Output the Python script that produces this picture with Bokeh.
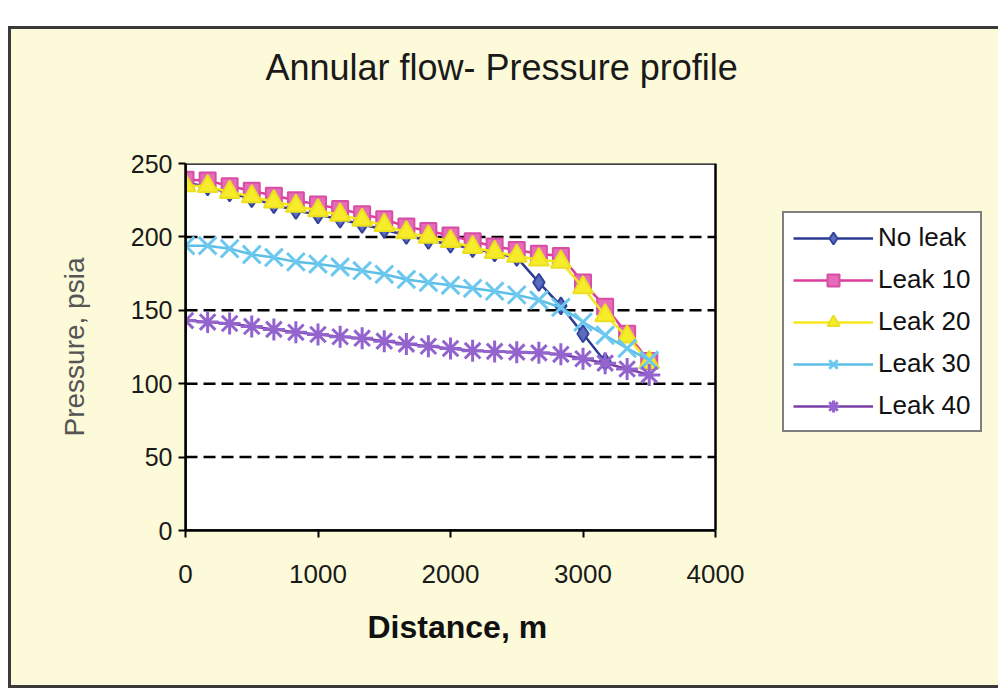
from bokeh.plotting import figure
from bokeh.models import Range1d, FixedTicker, Legend, LegendItem, ColumnDataSource, Title
from bokeh.embed import file_html
from bokeh.resources import INLINE

# ---------------- data ----------------
distance = [0, 167, 333, 500, 667, 833, 1000, 1167, 1333, 1500, 1667, 1833,
            2000, 2167, 2333, 2500, 2667, 2833, 3000, 3167, 3333, 3500]
no_leak = [237, 234, 230, 226, 222, 218, 215, 212, 208.5, 205, 201, 197.5,
           195, 192, 189, 186, 169, 153, 134, 115]
leak_10 = [239, 238.5, 234.5, 231.5, 228, 225, 222, 219, 215.5, 212, 207, 204,
           201, 197, 193.5, 191, 188.5, 187, 169, 152.5, 134, 115.5]
leak_20 = [235, 234.5, 230.5, 227.5, 224, 221, 218, 215, 211.5, 208, 203, 200,
           197, 193, 189.5, 187, 184.5, 183, 165.5, 146.5, 132, 114.5]
leak_30 = [194, 194, 192, 188, 186, 183, 181.5, 179.5, 177, 174.5, 171, 169,
           167, 165, 163, 160.5, 157, 152, 142, 133, 124, 116]
leak_40 = [143, 142, 141, 139, 137, 135, 133.5, 132, 131, 129, 127, 125.5,
           124, 122.5, 122, 121.5, 121, 120, 117, 114, 110, 106]
series_names = ["No leak", "Leak 10", "Leak 20", "Leak 30", "Leak 40"]
x_ticks = [0, 1000, 2000, 3000, 4000]
y_ticks = [0, 50, 100, 150, 200, 250]
x_limits = [0, 4000]
y_limits = [0, 250]
title_text = "Annular flow- Pressure profile"
x_title = "Distance, m"
y_title = "Pressure, psia"

FONT = "Liberation Sans"
OX, OY = 11, 29            # canvas origin inside the window (margin + border)
W, H = 990, 662
FL, FT, FB = 185 - OX, 163 - OY, 530 - OY   # frame edges in canvas px
PLOT_W = 530               # width of the drawn plot area in px (0..4000 m)
FR = W - 1                 # frame extends to the right to host the legend
x_end = (FR - FL) / PLOT_W * x_limits[1]
CREAM = "#FCFAD9"

p = figure(width=W, height=H, output_backend="svg", toolbar_location=None,
           x_range=Range1d(0, x_end), y_range=Range1d(*y_limits),
           min_border_left=FL, min_border_right=W - FR,
           min_border_top=FT, min_border_bottom=H - FB,
           title=title_text)
p.margin = (26, 0, 0, 8)
p.styles = {"border-top": "3px solid #3a3a3a", "border-left": "3px solid #3a3a3a",
            "border-bottom": "3px solid #3a3a3a", "background-color": CREAM}
p.border_fill_color = CREAM
p.background_fill_color = CREAM
p.outline_line_color = None

# white plot area
p.quad(left=[x_limits[0]], right=[x_limits[1]], bottom=[y_limits[0]], top=[y_limits[1]],
       fill_color="white", line_color=None, level="image")

# title
p.title.text_font = FONT
p.title.text_font_size = "36px"
p.title.text_font_style = "normal"
p.title.text_color = "#1a1a1a"
p.title.align = "left"
p.title.offset = 265 - 185
spacer = Title(text=" ", text_font_size="53px")
p.above.insert(0, spacer)

# axes
p.xaxis.ticker = FixedTicker(ticks=x_ticks)
p.yaxis.ticker = FixedTicker(ticks=y_ticks)
p.xaxis.bounds = tuple(x_limits)
for ax in (p.xaxis, p.yaxis):
    ax.axis_line_color = "black"
    ax.axis_line_width = 2.5
    ax.major_tick_line_color = "black"
    ax.major_tick_line_width = 2
    ax.major_tick_out = 7
    ax.major_tick_in = 0
    ax.minor_tick_line_color = None
    ax.major_label_text_font = FONT
    ax.major_label_text_color = "#1a1a1a"
p.xaxis.major_label_text_font_size = "26px"
p.yaxis.major_label_text_font_size = "25px"
p.xaxis.major_label_standoff = 27
p.yaxis.major_label_standoff = 6
p.yaxis.axis_label = y_title
p.yaxis.axis_label_text_font = FONT
p.yaxis.axis_label_text_font_size = "28px"
p.yaxis.axis_label_text_font_style = "normal"
p.yaxis.axis_label_text_color = "#555555"
p.yaxis.axis_label_standoff = 38
# small blank axis label only to add a little room before the x title
p.xaxis.axis_label = " "
p.xaxis.axis_label_text_font_size = "10px"
p.xaxis.axis_label_standoff = 2

# x axis title, placed under the plot area (not centred on the wider frame)
p.add_layout(Title(text=x_title, text_font=FONT, text_font_size="32px",
                   text_font_style="bold", text_color="#111111",
                   align="left", offset=367 - 185), "below")

p.xgrid.grid_line_color = None
p.ygrid.grid_line_color = None
grid_levels = y_ticks[1:-1]
p.segment(x0=[x_limits[0]] * len(grid_levels), x1=[x_limits[1]] * len(grid_levels),
          y0=grid_levels, y1=grid_levels, line_color="black", line_width=2.5,
          line_dash="12 6")

# series
styles = [
    dict(y=no_leak, line="#2B3A92", marker="diamond", size=17, fill="#5B6DBE", mline="#34449A", lw=2),
    dict(y=leak_10, line="#DD3C9A", marker="square", size=16, fill="#E66BB8", mline="#D64FA4", lw=2),
    dict(y=leak_20, line="#F4E81C", marker="triangle", size=20, fill="#F7EC2A", mline="#EADF20", lw=2),
    dict(y=leak_30, line="#5CBFE8", marker="x", size=25, fill="#6CC8EE", mline="#6CC8EE", lw=3),
    dict(y=leak_40, line="#7A3FA6", marker="asterisk", size=22, fill="#9363CE", mline="#9363CE", lw=3),
]
items = []
for name, st in zip(series_names, styles):
    xs = distance[:len(st["y"])]
    src = ColumnDataSource(dict(x=xs, y=st["y"]))
    r1 = p.line("x", "y", source=src, line_color=st["line"], line_width=2.5)
    r2 = p.scatter("x", "y", source=src, marker=st["marker"], size=st["size"],
                   fill_color=st["fill"], line_color=st["mline"], line_width=st["lw"])
    items.append(LegendItem(label=name, renderers=[r1, r2]))

# plot-area border on top
p.quad(left=[x_limits[0]], right=[x_limits[1]], bottom=[y_limits[0]], top=[y_limits[1]],
       fill_alpha=0, line_color="black", line_width=2.5)

legend = Legend(items=items, location=(782 - 185, 530 - 432),
                label_text_font=FONT, label_text_font_size="26px", label_text_color="#111111",
                glyph_width=80, glyph_height=30, label_height=30, label_standoff=5,
                spacing=11, padding=9, margin=0,
                border_line_color="black", border_line_width=2.5,
                background_fill_color="white", background_fill_alpha=1)
p.add_layout(legend)

open("out.html", "w").write(file_html(p, INLINE))
